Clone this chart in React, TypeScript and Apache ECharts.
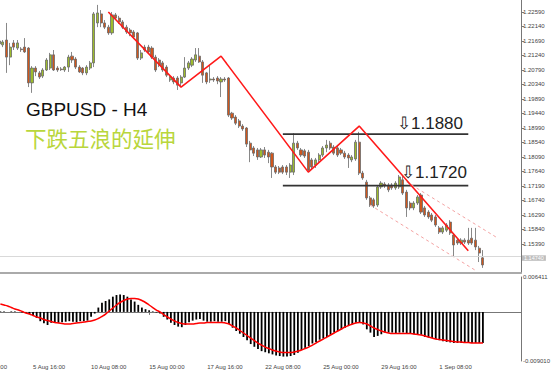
import { useEffect, useRef } from 'react';
import * as echarts from 'echarts';

// ---------- data ----------
const LEAD = 7;   // empty H4 slots before the first visible candle (axis label alignment)
const TRAIL = 10; // empty slots after the last candle (chart shift)
const LABEL_EVERY = 16; // one time label every 16 H4 bars

// candles: [open, close, low, high]
const candles: number[][] = [
  [1.2160, 1.2169, 1.2153, 1.2178], [1.2157, 1.2166, 1.2150, 1.2172], [1.2172, 1.2119, 1.2070, 1.2225],
  [1.2119, 1.2150, 1.2094, 1.2163], [1.2163, 1.2150, 1.2141, 1.2172], [1.2147, 1.2163, 1.2141, 1.2172],
  [1.2144, 1.2142, 1.2135, 1.2150], [1.2150, 1.2135, 1.2132, 1.2178], [1.2147, 1.2039, 1.2026, 1.2150],
  [1.2039, 1.2085, 1.2008, 1.2091], [1.2085, 1.2073, 1.2060, 1.2091], [1.2070, 1.2057, 1.2051, 1.2076],
  [1.2060, 1.2079, 1.2054, 1.2085], [1.2079, 1.2110, 1.2076, 1.2116], [1.2085, 1.2126, 1.2079, 1.2132],
  [1.2126, 1.2079, 1.2076, 1.2141], [1.2085, 1.2079, 1.2073, 1.2091], [1.2082, 1.2080, 1.2076, 1.2088],
  [1.2079, 1.2088, 1.2073, 1.2091], [1.2088, 1.2119, 1.2073, 1.2126], [1.2122, 1.2110, 1.2101, 1.2135],
  [1.2113, 1.2088, 1.2082, 1.2119], [1.2088, 1.2073, 1.2070, 1.2094], [1.2085, 1.2070, 1.2063, 1.2088],
  [1.2070, 1.2088, 1.2063, 1.2094], [1.2085, 1.2101, 1.2079, 1.2107], [1.2101, 1.2253, 1.2088, 1.2259],
  [1.2225, 1.2256, 1.2212, 1.2281], [1.2253, 1.2225, 1.2212, 1.2265], [1.2225, 1.2212, 1.2206, 1.2234],
  [1.2212, 1.2194, 1.2188, 1.2219], [1.2194, 1.2250, 1.2188, 1.2259], [1.2250, 1.2240, 1.2234, 1.2256],
  [1.2240, 1.2228, 1.2222, 1.2247], [1.2228, 1.2212, 1.2206, 1.2234], [1.2212, 1.2197, 1.2191, 1.2219],
  [1.2203, 1.2194, 1.2184, 1.2209], [1.2197, 1.2181, 1.2175, 1.2203], [1.2194, 1.2116, 1.2110, 1.2197],
  [1.2116, 1.2132, 1.2110, 1.2141], [1.2150, 1.2141, 1.2135, 1.2157], [1.2150, 1.2135, 1.2129, 1.2157],
  [1.2147, 1.2119, 1.2113, 1.2153], [1.2119, 1.2079, 1.2073, 1.2126], [1.2110, 1.2094, 1.2088, 1.2116],
  [1.2101, 1.2079, 1.2073, 1.2107], [1.2088, 1.2063, 1.2057, 1.2094], [1.2048, 1.2057, 1.2042, 1.2063],
  [1.2054, 1.2042, 1.2035, 1.2060], [1.2054, 1.2032, 1.2017, 1.2060], [1.2039, 1.2057, 1.2026, 1.2063],
  [1.2057, 1.2085, 1.2054, 1.2119], [1.2085, 1.2101, 1.2079, 1.2107], [1.2094, 1.2113, 1.2088, 1.2119],
  [1.2110, 1.2126, 1.2104, 1.2147], [1.2122, 1.2104, 1.2101, 1.2147], [1.2104, 1.2063, 1.2039, 1.2110],
  [1.2070, 1.2042, 1.2035, 1.2073], [1.2048, 1.2051, 1.2039, 1.2094], [1.2051, 1.2048, 1.2042, 1.2057],
  [1.2054, 1.2045, 1.2035, 1.2060], [1.2042, 1.2051, 1.1995, 1.2057], [1.2051, 1.2048, 1.2042, 1.2057],
  [1.2054, 1.1939, 1.1933, 1.2057], [1.1945, 1.1930, 1.1924, 1.1949], [1.1933, 1.1914, 1.1908, 1.1939],
  [1.1921, 1.1905, 1.1899, 1.1927], [1.1905, 1.1896, 1.1890, 1.1911], [1.1899, 1.1849, 1.1840, 1.1902],
  [1.1852, 1.1831, 1.1793, 1.1859], [1.1837, 1.1821, 1.1812, 1.1843], [1.1831, 1.1809, 1.1800, 1.1837],
  [1.1809, 1.1831, 1.1806, 1.1837], [1.1831, 1.1815, 1.1806, 1.1840], [1.1824, 1.1809, 1.1790, 1.1831],
  [1.1821, 1.1778, 1.1744, 1.1824], [1.1778, 1.1762, 1.1756, 1.1784], [1.1775, 1.1762, 1.1756, 1.1781],
  [1.1778, 1.1762, 1.1756, 1.1784], [1.1778, 1.1762, 1.1753, 1.1784], [1.1762, 1.1784, 1.1744, 1.1790],
  [1.1762, 1.1852, 1.1753, 1.1883], [1.1852, 1.1837, 1.1831, 1.1859], [1.1831, 1.1815, 1.1809, 1.1837],
  [1.1828, 1.1812, 1.1806, 1.1834], [1.1824, 1.1769, 1.1762, 1.1831], [1.1800, 1.1778, 1.1769, 1.1806],
  [1.1784, 1.1800, 1.1775, 1.1806], [1.1800, 1.1815, 1.1793, 1.1821], [1.1815, 1.1837, 1.1809, 1.1843],
  [1.1837, 1.1846, 1.1824, 1.1862], [1.1852, 1.1837, 1.1831, 1.1859], [1.1840, 1.1821, 1.1815, 1.1846],
  [1.1837, 1.1815, 1.1809, 1.1843], [1.1831, 1.1821, 1.1815, 1.1837], [1.1821, 1.1809, 1.1803, 1.1828],
  [1.1815, 1.1806, 1.1775, 1.1821], [1.1800, 1.1809, 1.1793, 1.1815], [1.1803, 1.1855, 1.1797, 1.1862],
  [1.1855, 1.1759, 1.1753, 1.1887], [1.1759, 1.1744, 1.1738, 1.1766], [1.1731, 1.1682, 1.1676, 1.1738],
  [1.1682, 1.1660, 1.1654, 1.1688], [1.1676, 1.1657, 1.1651, 1.1682], [1.1660, 1.1716, 1.1654, 1.1722],
  [1.1716, 1.1728, 1.1710, 1.1734], [1.1725, 1.1719, 1.1713, 1.1731], [1.1722, 1.1707, 1.1700, 1.1728],
  [1.1722, 1.1713, 1.1707, 1.1728], [1.1713, 1.1728, 1.1707, 1.1734], [1.1716, 1.1747, 1.1710, 1.1753],
  [1.1738, 1.1697, 1.1691, 1.1750], [1.1700, 1.1651, 1.1623, 1.1707], [1.1666, 1.1651, 1.1644, 1.1672],
  [1.1651, 1.1666, 1.1644, 1.1672], [1.1666, 1.1685, 1.1660, 1.1691], [1.1691, 1.1638, 1.1632, 1.1697],
  [1.1651, 1.1629, 1.1623, 1.1657], [1.1638, 1.1623, 1.1617, 1.1644], [1.1629, 1.1613, 1.1607, 1.1635],
  [1.1623, 1.1598, 1.1592, 1.1629], [1.1589, 1.1576, 1.1570, 1.1595], [1.1576, 1.1589, 1.1570, 1.1595],
  [1.1582, 1.1598, 1.1576, 1.1604], [1.1607, 1.1573, 1.1567, 1.1613], [1.1567, 1.1536, 1.1499, 1.1573],
  [1.1551, 1.1542, 1.1536, 1.1557], [1.1542, 1.1551, 1.1536, 1.1557], [1.1551, 1.1545, 1.1539, 1.1557],
  [1.1551, 1.1542, 1.1536, 1.1589], [1.1557, 1.1542, 1.1536, 1.1589], [1.1551, 1.1530, 1.1520, 1.1589],
  [1.1526, 1.1511, 1.1483, 1.1533], [1.1496, 1.1474, 1.1465, 1.1520],
];

// MACD main (histogram) and signal, one value per candle
const macdMain: number[] = [
  0.0001, 0.0001, 0.0000, 0.0001, 0.0001, 0.0000, -0.0001, -0.0002, -0.0004, -0.0007,
  -0.0011, -0.0017, -0.0021, -0.0024, -0.0020, -0.0019, -0.0020, -0.0019, -0.0018, -0.0017,
  -0.0018, -0.0019, -0.0017, -0.0017, -0.0016, -0.0009, -0.0003, 0.0008, 0.0017, 0.0020,
  0.0023, 0.0028, 0.0031, 0.0032, 0.0031, 0.0028, 0.0023, 0.0019, 0.0013, 0.0008,
  0.0005, 0.0003, 0.0001, -0.0001, -0.0003, -0.0009, -0.0014, -0.0020, -0.0024, -0.0027,
  -0.0028, -0.0024, -0.0019, -0.0016, -0.0014, -0.0013, -0.0016, -0.0018, -0.0018, -0.0017,
  -0.0018, -0.0018, -0.0017, -0.0022, -0.0029, -0.0035, -0.0040, -0.0046, -0.0052, -0.0059,
  -0.0064, -0.0068, -0.0072, -0.0074, -0.0076, -0.0078, -0.0080, -0.0081, -0.0082, -0.0082,
  -0.0081, -0.0079, -0.0075, -0.0070, -0.0066, -0.0063, -0.0058, -0.0055, -0.0051, -0.0049,
  -0.0046, -0.0042, -0.0038, -0.0035, -0.0032, -0.0029, -0.0025, -0.0023, -0.0020, -0.0020,
  -0.0023, -0.0032, -0.0038, -0.0046, -0.0044, -0.0041, -0.0038, -0.0038, -0.0038, -0.0040,
  -0.0038, -0.0038, -0.0040, -0.0040, -0.0041, -0.0041, -0.0042, -0.0046, -0.0047, -0.0048,
  -0.0050, -0.0052, -0.0054, -0.0055, -0.0056, -0.0057, -0.0057, -0.0057, -0.0057, -0.0057,
  -0.0057, -0.0057, -0.0057, -0.0057,
];
const macdSignal: number[] = [
  0.00145, 0.00127, 0.00108, 0.00081, 0.00053, 0.00035, 0.00008, -0.00020, -0.00039, -0.00066,
  -0.00093, -0.00112, -0.00139, -0.00158, -0.00176, -0.00195, -0.00204, -0.00213, -0.00222, -0.00222,
  -0.00213, -0.00204, -0.00195, -0.00185, -0.00176, -0.00167, -0.00149, -0.00121, -0.00084, -0.00039,
  0.00017, 0.00072, 0.00127, 0.00173, 0.00209, 0.00237, 0.00246, 0.00246, 0.00237, 0.00209,
  0.00173, 0.00127, 0.00081, 0.00035, -0.00001, -0.00048, -0.00093, -0.00130, -0.00167, -0.00195,
  -0.00213, -0.00222, -0.00222, -0.00222, -0.00213, -0.00204, -0.00204, -0.00195, -0.00195, -0.00195,
  -0.00195, -0.00195, -0.00204, -0.00222, -0.00259, -0.00295, -0.00341, -0.00387, -0.00433, -0.00479,
  -0.00525, -0.00571, -0.00608, -0.00645, -0.00672, -0.00699, -0.00718, -0.00736, -0.00745, -0.00745,
  -0.00745, -0.00736, -0.00718, -0.00699, -0.00672, -0.00645, -0.00608, -0.00571, -0.00534, -0.00498,
  -0.00461, -0.00424, -0.00387, -0.00350, -0.00314, -0.00277, -0.00250, -0.00222, -0.00204, -0.00195,
  -0.00204, -0.00222, -0.00259, -0.00295, -0.00323, -0.00350, -0.00369, -0.00387, -0.00396, -0.00396,
  -0.00396, -0.00396, -0.00396, -0.00396, -0.00406, -0.00415, -0.00424, -0.00442, -0.00461, -0.00479,
  -0.00498, -0.00507, -0.00516, -0.00525, -0.00534, -0.00543, -0.00553, -0.00553, -0.00562, -0.00562,
  -0.00571, -0.00571, -0.00571, -0.00571,
];

// drawn objects: [candle index, price]
const zigzag: number[][] = [[30, 1.2259], [50, 1.2026], [61, 1.2122], [85, 1.1762], [99, 1.1905], [129, 1.1518]];
const channelUpper: number[][] = [[112, 1.1732], [137, 1.1558]];
const channelLower: number[][] = [[102, 1.1660], [131, 1.1457]];
const levels = [1.188, 1.172];
const levelSpan = [78, 129];

// axes
const priceMin = 1.1449;
const priceMax = 1.22962;
const priceStep = 0.0045;
const macdMin = -0.00901;
const macdMax = 0.006411;

// the chart box starts a little left of the page so that the first candles are cut, as in the reference
const SHIFT = 28;

const MONTHS = ['Jan', 'Feb', 'Mar', 'Apr', 'May', 'Jun', 'Jul', 'Aug', 'Sep', 'Oct', 'Nov', 'Dec'];
function h4Times(n: number): string[] {
  const out: string[] = [];
  let t = Date.UTC(2022, 7, 3, 0, 0);
  while (out.length < n) {
    const d = new Date(t);
    const wd = d.getUTCDay();
    if (wd !== 0 && wd !== 6) {
      out.push(`${d.getUTCDate()} ${MONTHS[d.getUTCMonth()]} ${String(d.getUTCHours()).padStart(2, '0')}:00`);
    }
    t += 4 * 3600 * 1000;
  }
  return out;
}

export default function App() {
  const ref = useRef<HTMLDivElement>(null);
  useEffect(() => {
    if (!ref.current) return;
    const chart = echarts.init(ref.current, undefined, { renderer: 'svg' });
    const total = LEAD + candles.length + TRAIL;
    const cats = h4Times(total);
    const lastIdx = LEAD + candles.length - 1;
    const pad = (arr: any[]) => [...Array(LEAD).fill('-'), ...arr, ...Array(TRAIL).fill('-')];
    const shift = (pts: number[][]) => pts.map(([i, v]) => [i + LEAD, v]);
    const lastClose = candles[candles.length - 1][1];
    const font = '"Liberation Sans", Arial, sans-serif';
    const axisColor = '#777';
    const showTime = (idx: number) => idx % LABEL_EVERY === 0 && idx <= lastIdx;

    chart.setOption({
      animation: false,
      backgroundColor: '#fff',
      grid: [
        { left: 0, right: 33, top: 0, height: 273 },
        { left: 0, right: 33, top: 277, height: 84 },
      ],
      xAxis: [
        {
          type: 'category', gridIndex: 0, data: cats, boundaryGap: true,
          axisLine: { show: true, lineStyle: { color: '#aaa', width: 2 } },
          axisTick: { show: false }, axisLabel: { show: false }, splitLine: { show: false },
        },
        {
          type: 'category', gridIndex: 1, data: cats, boundaryGap: true, offset: 1,
          axisLine: { show: true, lineStyle: { color: axisColor, width: 1 } },
          axisTick: { show: true, interval: showTime, alignWithLabel: true, length: 3, lineStyle: { color: axisColor } },
          axisLabel: { show: true, interval: showTime, align: 'left', margin: 2, fontSize: 6, color: '#444', fontFamily: font },
          splitLine: { show: false },
        },
      ],
      yAxis: [
        {
          type: 'value', gridIndex: 0, position: 'right', min: priceMin, max: priceMax, interval: priceStep,
          axisLine: { show: true, lineStyle: { color: axisColor } },
          axisTick: { show: true, length: 3, lineStyle: { color: axisColor } },
          axisLabel: {
            show: true, margin: 2, fontSize: 6, lineHeight: 6, color: '#444', fontFamily: font,
            showMinLabel: false, showMaxLabel: false, formatter: (v: number) => v.toFixed(5),
          },
          splitLine: { show: false },
        },
        {
          type: 'value', gridIndex: 1, position: 'right', min: macdMin, max: macdMax, interval: macdMax - macdMin,
          axisLine: { show: true, lineStyle: { color: axisColor } },
          axisTick: { show: false },
          axisLabel: {
            show: true, margin: 2, fontSize: 6, color: '#444', fontFamily: font,
            showMinLabel: true, showMaxLabel: true, formatter: (v: number) => v.toFixed(6),
          },
          splitLine: { show: false },
        },
      ],
      series: [
        {
          type: 'candlestick', xAxisIndex: 0, yAxisIndex: 0, barWidth: 2.6,
          data: pad(candles),
          itemStyle: { color: '#9dbb2c', color0: '#d0561c', borderColor: '#6a6a6a', borderColor0: '#6a6a6a', borderWidth: 0.8 },
          markLine: {
            symbol: 'none', silent: true,
            lineStyle: { color: '#d9d9d9', width: 1, type: 'solid' },
            label: {
              show: true, position: 'end', distance: 1, offset: [0, 1.5], formatter: () => lastClose.toFixed(5),
              fontSize: 5.5, lineHeight: 5.5, color: '#fff', backgroundColor: '#bdbdbd', padding: [0, 2], fontFamily: font,
            },
            data: [{ yAxis: lastClose }],
          },
        },
        {
          type: 'line', xAxisIndex: 0, yAxisIndex: 0, data: shift(zigzag), symbol: 'none',
          lineStyle: { color: '#ff1a1a', width: 1.6 }, z: 5,
        },
        {
          type: 'line', xAxisIndex: 0, yAxisIndex: 0, data: shift(channelUpper), symbol: 'none',
          lineStyle: { color: '#f4a3a3', width: 1, type: [3, 3] }, z: 4,
        },
        {
          type: 'line', xAxisIndex: 0, yAxisIndex: 0, data: shift(channelLower), symbol: 'none',
          lineStyle: { color: '#f4a3a3', width: 1, type: [3, 3] }, z: 4,
        },
        ...levels.map((lv) => ({
          type: 'line', xAxisIndex: 0, yAxisIndex: 0, symbol: 'none', z: 3,
          data: levelSpan.map((i) => [i + LEAD, lv]),
          lineStyle: { color: '#333', width: 1.8 },
        })),
        {
          type: 'bar', xAxisIndex: 1, yAxisIndex: 1, data: pad(macdMain), barWidth: 1.8,
          itemStyle: { color: '#000' },
        },
        {
          type: 'line', xAxisIndex: 1, yAxisIndex: 1, data: pad(macdSignal), symbol: 'none', smooth: true,
          lineStyle: { color: '#ff0000', width: 1.5 },
        },
      ],
      graphic: [
        { type: 'text', left: SHIFT + 26, top: 100, style: { text: 'GBPUSD - H4', font: `19px ${font}`, fill: '#111' } },
        { type: 'text', left: SHIFT + 25, top: 127, style: { text: '下跌五浪的延伸', font: '21.5px "Noto Sans CJK SC", sans-serif', fill: '#b9d63c' } },
        { type: 'text', left: SHIFT + 397, top: 115, style: { text: '⇩1.1880', font: `17px ${font}`, fill: '#222' } },
        { type: 'text', left: SHIFT + 401, top: 164, style: { text: '⇩1.1720', font: `17px ${font}`, fill: '#222' } },
      ],
    });
    return () => chart.dispose();
  }, []);
  return <div ref={ref} style={{ position: 'fixed', left: -SHIFT, top: 0, width: 554 + SHIFT, height: 372 }} />;
}
